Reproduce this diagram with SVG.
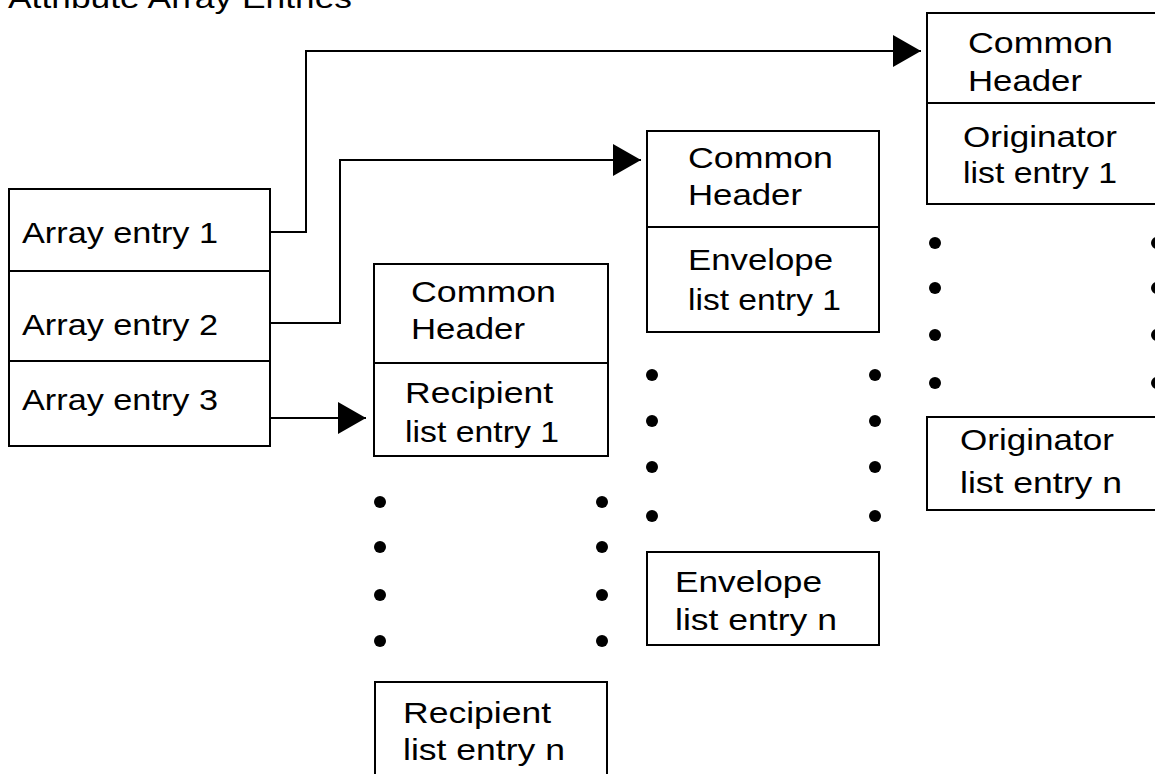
<svg xmlns="http://www.w3.org/2000/svg" width="1155" height="774" viewBox="0 0 1155 774">
<style>
.box{fill:#fff;stroke:#000;stroke-width:2}
.div{stroke:#000;stroke-width:2}
.t{font-family:"Liberation Sans",Arial,sans-serif;font-size:30px;fill:#000}
.c{fill:none;stroke:#000;stroke-width:2}
.dot{fill:#000}
</style>
<defs>
<marker id="ah" markerUnits="userSpaceOnUse" markerWidth="30" markerHeight="34" refX="28" refY="16" orient="auto">
<path d="M0,0 L28,16 L0,32 Z" fill="#000"/>
</marker>
</defs>
<rect width="1155" height="774" fill="#fff"/>
<text class="t" x="8" y="8" textLength="344" lengthAdjust="spacingAndGlyphs">Attribute Array Entries</text>

<g id="array">
<rect class="box" x="9" y="189" width="261" height="257"/>
<line class="div" x1="9" y1="271" x2="270" y2="271"/>
<line class="div" x1="9" y1="361" x2="270" y2="361"/>
<text class="t" x="22" y="243" textLength="196" lengthAdjust="spacingAndGlyphs">Array entry 1</text>
<text class="t" x="22" y="335" textLength="196" lengthAdjust="spacingAndGlyphs">Array entry 2</text>
<text class="t" x="22" y="410" textLength="196" lengthAdjust="spacingAndGlyphs">Array entry 3</text>
</g>

<g id="originator1">
<rect class="box" x="927" y="13" width="240" height="191"/>
<line class="div" x1="927" y1="103" x2="1167" y2="103"/>
<text class="t" x="968" y="53" textLength="145" lengthAdjust="spacingAndGlyphs">Common</text>
<text class="t" x="968" y="91" textLength="114" lengthAdjust="spacingAndGlyphs">Header</text>
<text class="t" x="963" y="147" textLength="154" lengthAdjust="spacingAndGlyphs">Originator</text>
<text class="t" x="963" y="183" textLength="154" lengthAdjust="spacingAndGlyphs">list entry 1</text>
</g>

<g id="envelope1">
<rect class="box" x="647" y="131" width="232" height="201"/>
<line class="div" x1="647" y1="227" x2="879" y2="227"/>
<text class="t" x="688" y="168" textLength="145" lengthAdjust="spacingAndGlyphs">Common</text>
<text class="t" x="688" y="205" textLength="114" lengthAdjust="spacingAndGlyphs">Header</text>
<text class="t" x="688" y="270" textLength="145" lengthAdjust="spacingAndGlyphs">Envelope</text>
<text class="t" x="688" y="310" textLength="153" lengthAdjust="spacingAndGlyphs">list entry 1</text>
</g>

<g id="recipient1">
<rect class="box" x="374" y="264" width="234" height="192"/>
<line class="div" x1="374" y1="363" x2="608" y2="363"/>
<text class="t" x="411" y="302" textLength="145" lengthAdjust="spacingAndGlyphs">Common</text>
<text class="t" x="411" y="339" textLength="114" lengthAdjust="spacingAndGlyphs">Header</text>
<text class="t" x="405" y="403" textLength="148" lengthAdjust="spacingAndGlyphs">Recipient</text>
<text class="t" x="405" y="442" textLength="154" lengthAdjust="spacingAndGlyphs">list entry 1</text>
</g>

<g id="recipient-dots">
<circle class="dot" cx="380" cy="502" r="6"/>
<circle class="dot" cx="380" cy="547" r="6"/>
<circle class="dot" cx="380" cy="595" r="6"/>
<circle class="dot" cx="380" cy="641" r="6"/>
<circle class="dot" cx="602" cy="502" r="6"/>
<circle class="dot" cx="602" cy="547" r="6"/>
<circle class="dot" cx="602" cy="595" r="6"/>
<circle class="dot" cx="602" cy="641" r="6"/>
</g>

<g id="envelope-dots">
<circle class="dot" cx="652" cy="375" r="6"/>
<circle class="dot" cx="652" cy="421" r="6"/>
<circle class="dot" cx="652" cy="467" r="6"/>
<circle class="dot" cx="652" cy="516" r="6"/>
<circle class="dot" cx="875" cy="375" r="6"/>
<circle class="dot" cx="875" cy="421" r="6"/>
<circle class="dot" cx="875" cy="467" r="6"/>
<circle class="dot" cx="875" cy="516" r="6"/>
</g>

<g id="originator-dots">
<circle class="dot" cx="935" cy="243" r="6"/>
<circle class="dot" cx="935" cy="288" r="6"/>
<circle class="dot" cx="935" cy="335" r="6"/>
<circle class="dot" cx="935" cy="383" r="6"/>
<circle class="dot" cx="1157" cy="243" r="6"/>
<circle class="dot" cx="1157" cy="288" r="6"/>
<circle class="dot" cx="1157" cy="335" r="6"/>
<circle class="dot" cx="1157" cy="383" r="6"/>
</g>

<g id="originatorN">
<rect class="box" x="927" y="417" width="240" height="93"/>
<text class="t" x="960" y="450" textLength="154" lengthAdjust="spacingAndGlyphs">Originator</text>
<text class="t" x="960" y="493" textLength="162" lengthAdjust="spacingAndGlyphs">list entry n</text>
</g>

<g id="envelopeN">
<rect class="box" x="647" y="552" width="232" height="93"/>
<text class="t" x="675" y="592" textLength="147" lengthAdjust="spacingAndGlyphs">Envelope</text>
<text class="t" x="675" y="630" textLength="162" lengthAdjust="spacingAndGlyphs">list entry n</text>
</g>

<g id="recipientN">
<rect class="box" x="375" y="682" width="232" height="100"/>
<text class="t" x="403" y="723" textLength="148" lengthAdjust="spacingAndGlyphs">Recipient</text>
<text class="t" x="403" y="760" textLength="162" lengthAdjust="spacingAndGlyphs">list entry n</text>
</g>

<g id="connectors">
<path class="c" d="M270,232 H306 V51 H921" marker-end="url(#ah)"/>
<path class="c" d="M270,323 H340 V160 H641" marker-end="url(#ah)"/>
<path class="c" d="M270,418 H366" marker-end="url(#ah)"/>
</g>
</svg>
